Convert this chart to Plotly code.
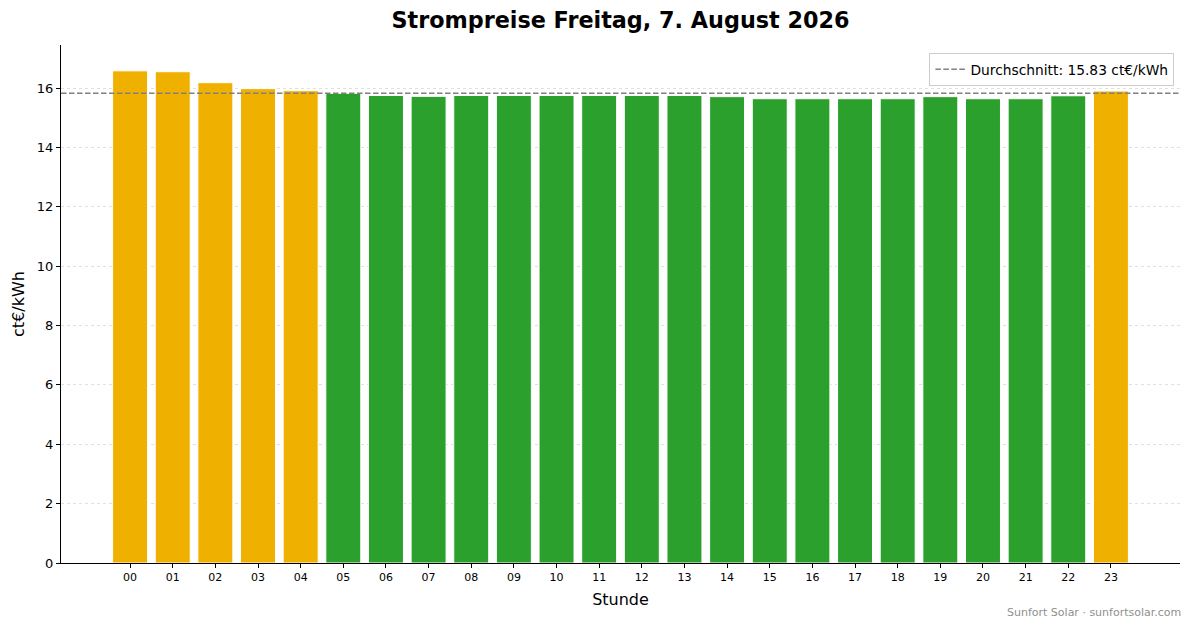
import plotly.graph_objects as go

# Stundenpreise in ct/kWh
stunden = [f"{h:02d}" for h in range(24)]
preise = [16.58, 16.55, 16.18, 15.98, 15.91, 15.82, 15.75, 15.72,
          15.75, 15.75, 15.75, 15.75, 15.75, 15.75, 15.71, 15.64,
          15.64, 15.64, 15.64, 15.71, 15.64, 15.64, 15.74, 15.90]

mittel = sum(preise) / len(preise)
farben = ['#f0b000' if p > mittel else '#2ca02c' for p in preise]

fig = go.Figure()

fig.add_trace(go.Bar(
    x=stunden,
    y=preise,
    marker=dict(color=farben, line=dict(color='white', width=1)),
    width=0.82,
    showlegend=False
))

# Dummy-Trace nur für den Legendeneintrag
fig.add_trace(go.Scatter(
    x=[None], y=[None],
    mode='lines',
    line=dict(color='#808080', width=1.5, dash='5.5px,2.5px'),
    name=f'Durchschnitt: {mittel:.2f} ct€/kWh'
))

fig.add_shape(type='line', xref='paper', x0=0, x1=1, yref='y', y0=mittel, y1=mittel,
              line=dict(color='#808080', width=1.5, dash='5.5px,2.5px'))

fig.add_annotation(text='Sunfort Solar · sunfortsolar.com', xref='paper', yref='paper',
                   x=1.003, y=-0.0965, xanchor='right', yanchor='middle', showarrow=False,
                   font=dict(size=11, color='#909090'))

fig.update_layout(
    width=1193, height=628,
    title=dict(text='<b>Strompreise Freitag, 7. August 2026</b>', xref='paper', x=0.5,
               xanchor='center', y=0.968, yanchor='middle',
               font=dict(size=22.3, color='black')),
    font=dict(family='DejaVu Sans', color='black'),
    plot_bgcolor='white', paper_bgcolor='white',
    margin=dict(l=61, r=13, t=45, b=65),
    xaxis=dict(
        type='category',
        range=[-1.62, 24.62],
        showgrid=False,
        showline=True, linecolor='black', linewidth=1,
        ticks='outside', ticklen=4, tickcolor='black',
        tickfont=dict(size=11),
        title=dict(text='Stunde', font=dict(size=16), standoff=10)
    ),
    yaxis=dict(
        range=[0, 17.45],
        dtick=2,
        showgrid=True, gridcolor='#e0e0e0', griddash='dot', gridwidth=1,
        zeroline=False,
        showline=True, linecolor='black', linewidth=1,
        ticks='outside', ticklen=4, tickcolor='black',
        tickfont=dict(size=13),
        title=dict(text='ct€/kWh', font=dict(size=16), standoff=8)
    ),
    legend=dict(
        x=0.995, y=0.985, xanchor='right', yanchor='top',
        bgcolor='white', bordercolor='#cccccc', borderwidth=1,
        font=dict(size=13.8)
    )
)

# Seitenrand im Browser entfernen, keine Modebar
fig.write_html("out.html", config={'displayModeBar': False},
               post_script="document.body.style.margin='0';")
